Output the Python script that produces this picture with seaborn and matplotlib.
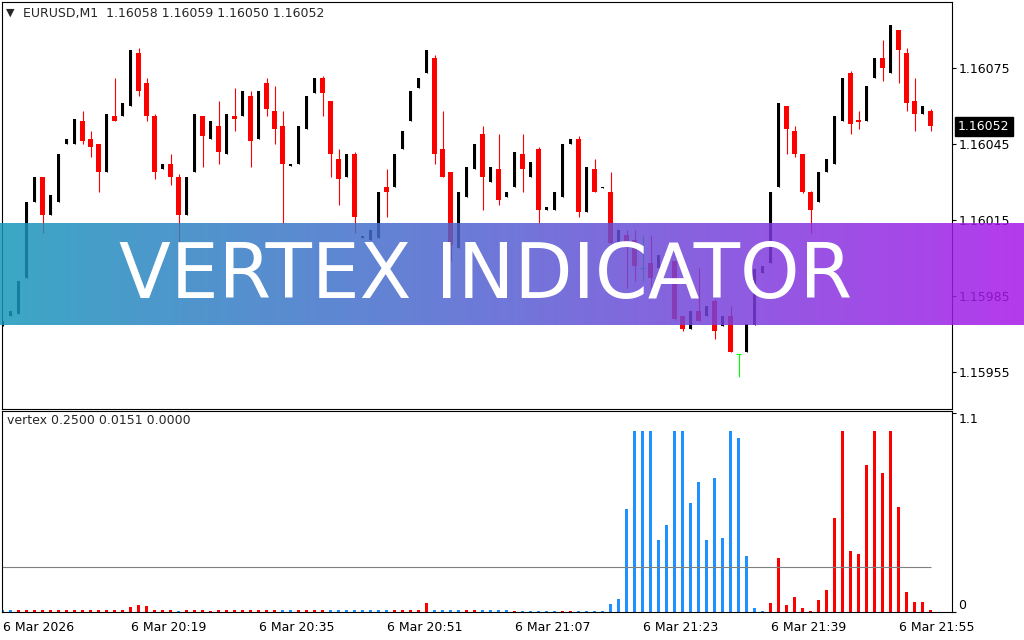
import numpy as np
import pandas as pd
import matplotlib
matplotlib.use('Agg')
import matplotlib.pyplot as plt
import matplotlib.transforms as mtransforms
import seaborn as sns

# EURUSD M1, 6 Mar 2026 20:03 .. 21:59, prices in points above 1.16000
BASE = 1.16000
POINT = 0.00001
SYMBOL = 'EURUSD,M1'

open_pts = [
    -27, -23, -22, -8, 22, 32, 17, 22, 45, 45,
    54, 47, 45, 34, 56, 56, 60, 81, 69, 56,
    35, 37, 32, 17, 34, 56, 47, 52, 41, 56,
    56, 64, 47, 69, 58, 52, 36.5, 37, 51, 65,
    71, 62, 39, 32, 41, 8, 7, 8, 28, 28,
    43, 54, 67, 73, 79, 43, 34, 4, 24, 35,
    49, 30, 35, 24, 28, 41, 32, 43, 19, 19,
    24, 45, 47, 18, 35, 27.5, 26, 6, 9, 7,
    -4, -2, -4, 1, -1, -23, -28, -21, -23, -17,
    -27, -23, -38, -37, -26.5, -6, -2, 28, 60, 50,
    41, 26, 22, 34, 37, 54, 73, 54.5, 54, 71,
    79, 73, 90, 81, 62, 57, 58]
high_pts = [
    -25, -21, -9, 22, 32, 32, 25, 41, 47, 55,
    58, 50, 45, 57, 71, 61, 82, 83, 71, 57,
    37, 41, 33, 32, 57, 56, 54, 62, 57, 67,
    66, 66, 66, 71, 68, 58, 37, 52, 64, 71,
    72, 62, 43, 41, 42, 8.5, 11, 26, 35, 41,
    50, 66, 71, 82, 80, 58, 34, 26, 36, 45,
    52, 36, 49, 26, 42, 49, 38, 44, 20, 26,
    45, 47, 48, 36, 39, 28, 34, 11, 11, 11,
    9, 9, 1, 3, -1, -23, -21, -4, -19, -16,
    -23, -19, -38, -26, -4.5, -3, 26, 61, 60, 52,
    41, 26.5, 34, 39, 56, 71, 74, 58, 68, 79,
    86, 92, 90, 83, 71, 60, 59]
low_pts = [
    -27, -23, -22, -8, 22, 10, 17, 22, 45, 45,
    45, 40, 26, 34, 54, 56, 60, 64, 54, 31,
    35, 29, 4, 17, 34, 36, 47, 37, 41, 50,
    56, 36, 47, 56, 45, 14, 36.5, 37, 51, 65,
    56, 32, 21, 32, 10, 8, 7, 8, 16, 28,
    43, 54, 67, 73, 37, 32, -1, 4, 24, 35,
    19, 30, 21, 24, 28, 26, 32, 14, 19, 19,
    24, 45, 16, 18, 26, 27.5, 5.5, 6, -12, -9,
    -9, -11.5, -4, -3, -24.5, -29, -28, -25, -23, -32,
    -27, -37, -47, -37, -26.5, -6, -2, 28, 41, 40,
    25.5, 10, 22, 34, 37, 54, 49, 51, 54, 71,
    70, 73, 69, 58, 50, 57, 50]
close_pts = [
    -25, -21, -9, 22, 32, 17, 25, 41, 47, 55,
    46, 44, 34, 57, 54, 61, 82, 66, 56, 34,
    37, 32, 17, 32, 57, 48, 54, 42, 57, 55,
    66, 46, 66, 59, 51, 37, 37, 52, 64, 71,
    65, 41, 31, 41, 16, 8.5, 11, 26, 26, 41,
    50, 66, 71, 82, 41, 32, 5, 26, 36, 45,
    32, 36, 23, 26, 42, 35, 38, 19, 20, 26,
    45, 47, 18, 36, 26, 28, 6, 11, 5, -3,
    -4, -8, 1, -2, -24, -28, -21, -25, -19, -29,
    -23, -37, -38, -26, -4.5, -3, 26, 61, 51, 41,
    26, 19, 34, 39, 56, 71, 53, 53.7, 68, 79,
    75, 92, 82, 61, 57, 60, 52]

# vertex indicator histogram, b = blue buffer, r = red buffer
vertex = [
    .01, .01, .01, .01, .01, .01, .01, .01, .01, .012,
    .01, .01, .01, .01, .01, .01, .03, .04, .035, .01,
    .01, .01, .008, .01, .01, .01, .008, .01, .01, .01,
    .015, .01, .01, .01, .01, .01, .01, .01, .01, .012,
    .01, .01, .01, .01, .01, .01, .01, .01, .01, .01,
    .01, .01, .01, .05, .01, .01, .012, .01, .01, .01,
    .01, .01, .01, .01, .008, .008, .008, .008, .008, .008,
    .008, .008, .008, .008, .008, .008, .044, .074, .57, 1.0,
    1.0, 1.0, .40, .48, 1.0, 1.0, .60, .72, .40, .74,
    .41, 1.0, .96, .31, .024, .006, .053, .30, .042, .085,
    .024, .005, .068, .123, .52, 1.0, .34, .32, .81, 1.0,
    .77, 1.0, .58, .11, .057, .057, .0151]
side = ("bbrrrrrrrr" "rrrrrrrrrr" "rrbrrrrrrr" "rrrrrbbrrr"
        "rbbbbbbbbr" "rrrrbbbbrr" "bbbbrbbbbb" "rrbbbbbbbb"
        "bbbbbbbbbb" "bbbbbbrrrr" "rrrrrrrrrr" "rrrrrrr")
level = 0.25

price_ticks = [1.16075, 1.16045, 1.16015, 1.15985, 1.15955]
time_bars = [0, 16, 32, 48, 64, 80, 96, 112]
time_labels = ['6 Mar 2026', '6 Mar 20:19', '6 Mar 20:35', '6 Mar 20:51',
               '6 Mar 21:07', '6 Mar 21:23', '6 Mar 21:39', '6 Mar 21:55']

sns.set_style('white')
plt.rcParams['font.family'] = ['DejaVu Sans']
plt.rcParams['font.size'] = 9

W, H = 1024, 640
fig = plt.figure(figsize=(W / 100, H / 100), dpi=100)


def box(x0, y0, x1, y1):
    return [x0 / W, 1 - y1 / H, (x1 - x0) / W, (y1 - y0) / H]


ax = fig.add_axes(box(1.5, 1.7, 951.5, 409))
ax2 = fig.add_axes(box(1.5, 411, 951.5, 612.3))

o = BASE + np.array(open_pts) * POINT
h = BASE + np.array(high_pts) * POINT
l = BASE + np.array(low_pts) * POINT
c = BASE + np.array(close_pts) * POINT
x = np.arange(len(o))
up = c > o + 1e-9
dn = c < o - 1e-9
dj = ~(up | dn)

RED = '#FF0000'
ax.vlines(x[dn], l[dn], h[dn], color=RED, lw=0.8)
ax.bar(x[dn], (o - c)[dn], bottom=c[dn], width=0.62, color=RED, linewidth=0)
ax.vlines(x[up], l[up], h[up], color='black', lw=0.8)
ax.bar(x[up], (c - o)[up], bottom=o[up], width=0.4, color='black', linewidth=0)
ax.vlines(x[dj], l[dj], h[dj], color='#00FF00', lw=0.8)
ax.hlines(o[dj], x[dj] - 0.3, x[dj] + 0.3, color='#00FF00', lw=0.8)

xlim = (-0.15, 118.6)
ax.set_xlim(*xlim)
ax.set_ylim(BASE - 59.62 * POINT, BASE + 101.18 * POINT)
ax.set_xticks([])
ax.yaxis.tick_right()
ax.set_yticks(price_ticks)
ax.set_yticklabels([f'{p:.5f}' for p in price_ticks])
ax.tick_params(axis='y', length=3, width=0.8, pad=2, labelsize=9, colors='black')

# last price box
tr = mtransforms.blended_transform_factory(ax.transAxes, ax.transData)
ax.text(1.0068, c[-1], f'{c[-1]:.5f}', transform=tr, va='center', ha='left',
        color='white', fontsize=9,
        bbox=dict(boxstyle='square,pad=0.25', facecolor='black', edgecolor='black'))

# header
fig.text(6 / W, 1 - 13 / H, '\u25BC', fontsize=8, va='center', ha='left')
fig.text(23 / W, 1 - 14 / H,
         f'{SYMBOL}  {o[-1]:.5f} {h[-1]:.5f} {l[-1]:.5f} {c[-1]:.5f}',
         fontsize=9, va='center', ha='left')

# vertex histogram
df = pd.DataFrame({'bar': x, 'vertex': vertex, 'side': list(side)})
sns.barplot(data=df, x='bar', y='vertex', hue='side',
            palette={'b': '#1E90FF', 'r': RED}, native_scale=True, dodge=False,
            width=0.42, errorbar=None, legend=False, saturation=1,
            linewidth=0, ax=ax2)
ax2.hlines(level, xlim[0], len(x) - 1, color='#808080', lw=0.8)
ax2.set_xlim(*xlim)
ax2.set_ylim(0, 1.11)
ax2.set_xlabel('')
ax2.set_ylabel('')
ax2.set_xticks(time_bars)
ax2.set_xticklabels(time_labels)
for lbl in ax2.get_xticklabels():
    lbl.set_ha('left')
ax2.tick_params(axis='x', length=4, width=0.8, pad=2, labelsize=9, colors='black')
ax2.yaxis.tick_right()
ax2.set_yticks([0, 1.1])
ax2.set_yticklabels(['0', '1.1'])
ylbls = ax2.get_yticklabels()
ylbls[0].set_va('bottom')
ylbls[1].set_va('top')
ax2.tick_params(axis='y', length=3, width=0.8, pad=2, labelsize=9, colors='black')
ax2.text(0.006, 0.985, f'vertex {level:.4f} {vertex[-1]:.4f} 0.0000',
         transform=ax2.transAxes, va='top', ha='left', fontsize=9)

for a in (ax, ax2):
    for s in a.spines.values():
        s.set_color('black')
        s.set_linewidth(0.8)

# banner overlay
bx = fig.add_axes(box(0, 222.5, W, 325))
bx.set_zorder(10)
alpha = 0.85
stops = np.array([[59, 167, 197], [112, 118, 217], [181, 58, 236]]) / 255
t = np.linspace(0, 1, 512)
cols = np.stack([np.interp(t, [0, 0.5, 1], stops[:, k]) for k in range(3)], axis=-1)
base = np.clip((cols - (1 - alpha)) / alpha, 0, 1)
rgba = np.concatenate([base, np.full((len(t), 1), alpha)], axis=1)[None, :, :]
bx.imshow(rgba, aspect='auto', extent=(0, 1, 0, 1), interpolation='bilinear')
bx.set_xlim(0, 1)
bx.set_ylim(0, 1)
bx.set_axis_off()
bx.text(486 / W, 1 - 298 / H, 'VERTEX INDICATOR', transform=fig.transFigure,
        ha='center', va='baseline', color='white', fontsize=54.5)

fig.savefig('out.png', dpi=100)
